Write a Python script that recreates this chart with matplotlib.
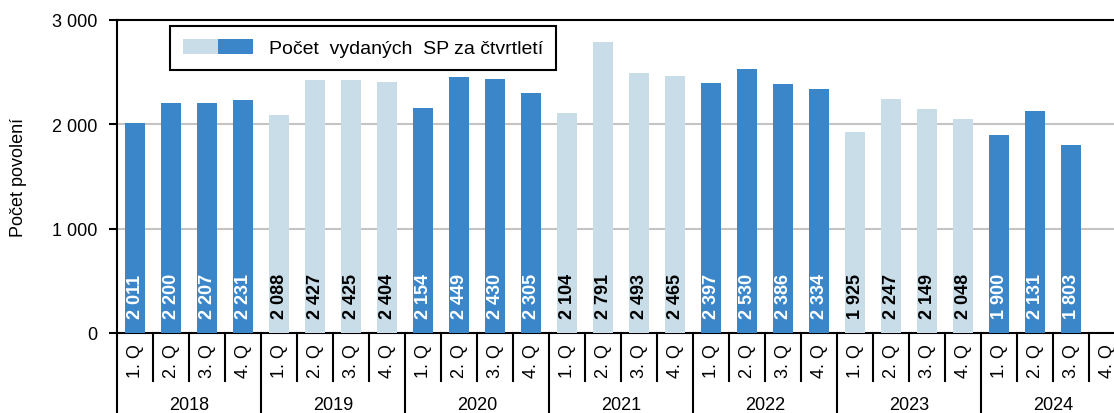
import matplotlib
matplotlib.use("Agg")
import matplotlib.pyplot as plt
import matplotlib.transforms as mtransforms
from matplotlib.patches import Patch
from matplotlib.legend_handler import HandlerTuple
from matplotlib.ticker import FuncFormatter
import numpy as np

plt.rcParams['font.family'] = ['Liberation Sans', 'DejaVu Sans']

years = ["2018", "2019", "2020", "2021", "2022", "2023", "2024"]
quarters = ["1. Q", "2. Q", "3. Q", "4. Q"]
values_2018 = [2011, 2200, 2207, 2231]
values_2019 = [2088, 2427, 2425, 2404]
values_2020 = [2154, 2449, 2430, 2305]
values_2021 = [2104, 2791, 2493, 2465]
values_2022 = [2397, 2530, 2386, 2334]
values_2023 = [1925, 2247, 2149, 2048]
values_2024 = [1900, 2131, 1803, None]
legend_label = "Počet  vydaných  SP za čtvrtletí"
ylabel = "Počet povolení"

all_values = [values_2018, values_2019, values_2020, values_2021,
              values_2022, values_2023, values_2024]

dark = "#3A86C8"
light = "#C9DDE9"

W, H = 1114, 414
fig = plt.figure(figsize=(W / 100, H / 100), dpi=100)
ax_left, ax_bottom = 117 / W, 1 - 334 / H
ax_w, ax_h = 1008 / W, (334 - 21) / H
ax = fig.add_axes([ax_left, ax_bottom, ax_w, ax_h])

fs = 13
for yi, vals in enumerate(all_values):
    col = dark if yi % 2 == 0 else light
    tcol = "white" if yi % 2 == 0 else "black"
    for q, v in enumerate(vals):
        x = yi * 4 + q
        if v is not None:
            ax.bar(x, v, width=0.55, color=col, zorder=3)
            ax.text(x, 140, f"{v:,}".replace(",", " "), rotation=90,
                    ha="center", va="bottom", color=tcol, fontsize=fs,
                    fontweight="bold", zorder=4)

n = len(years) * 4
ax.set_xlim(-0.5, n - 0.5)
ax.set_ylim(0, 3000)
ax.set_yticks([0, 1000, 2000, 3000])
ax.yaxis.set_major_formatter(FuncFormatter(lambda v, p: f"{int(v):,}".replace(",", " ")))
ax.tick_params(axis="y", labelsize=fs, length=6, width=1.5, direction="out", pad=8)
ax.set_xticks([])
for y in [1000, 2000]:
    ax.axhline(y, color="#C4C4C4", lw=1.5, zorder=1)
for s in ["left", "bottom", "top"]:
    ax.spines[s].set_color("black")
    ax.spines[s].set_linewidth(1.5)
ax.spines["right"].set_visible(False)

ax.set_ylabel(ylabel, fontsize=fs)
ax.yaxis.set_label_coords(-0.089, 0.5)

trans = mtransforms.blended_transform_factory(ax.transData, ax.transAxes)
for b in range(n + 1):
    xb = b - 0.5
    if b % 4 == 0:
        ax.plot([xb, xb], [0, -0.26], transform=trans, color="black", lw=1.5, clip_on=False)
    else:
        ax.plot([xb, xb], [0, -0.153], transform=trans, color="black", lw=1.5, clip_on=False)
for yi, yr in enumerate(years):
    for q, ql in enumerate(quarters):
        ax.text(yi * 4 + q, -0.088, ql, rotation=90, ha="center", va="center",
                fontsize=fs, transform=trans)
    ax.text(yi * 4 + 1.5, -0.228, yr, ha="center", va="center", fontsize=fs, transform=trans)

h = (Patch(facecolor=light), Patch(facecolor=dark))
leg = fig.legend([h], [legend_label], handler_map={tuple: HandlerTuple(ndivide=None, pad=0)},
                 loc="upper left", bbox_to_anchor=(170 / W, 1 - 27 / H),
                 bbox_transform=fig.transFigure, fontsize=14, fancybox=False,
                 edgecolor="black", framealpha=1, handlelength=3.6, handleheight=0.77,
                 borderaxespad=0, borderpad=0.68, handletextpad=0.8)
leg.get_frame().set_linewidth(1.5)

fig.savefig("out.png", dpi=100)
